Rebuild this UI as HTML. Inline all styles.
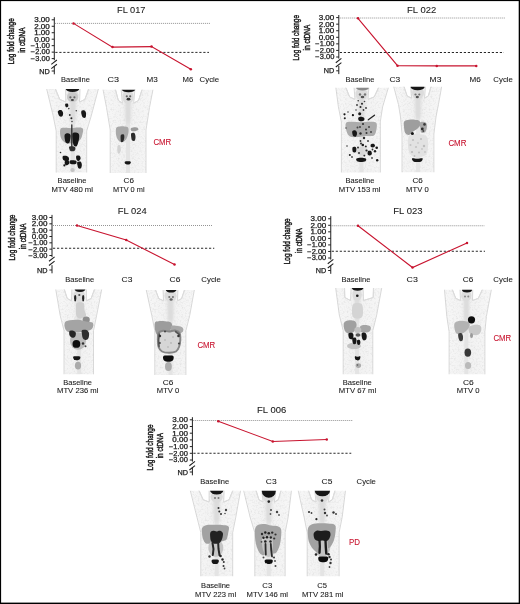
<!DOCTYPE html>
<html><head><meta charset="utf-8"><style>
html,body{margin:0;padding:0;background:#fff;}
svg{display:block;font-family:"Liberation Sans", sans-serif;will-change:transform;}
text{stroke:#1a1a1a;stroke-width:0.08px;}
text.b{stroke-width:0.25px;}
text.v{stroke-width:0.45px;}
text.r{stroke:#c8142f;}
</style></head><body>
<svg width="520" height="604" viewBox="0 0 520 604">
<defs>
<filter id="soft" x="-10%" y="-10%" width="120%" height="120%"><feGaussianBlur stdDeviation="0.45"/></filter>
<filter id="soft2" x="-10%" y="-10%" width="120%" height="120%"><feGaussianBlur stdDeviation="0.7"/></filter>
<filter id="spk" x="0" y="0" width="100%" height="100%"><feTurbulence type="fractalNoise" baseFrequency="0.55" numOctaves="2" seed="7" result="t"/><feColorMatrix in="t" type="matrix" values="0 0 0 0 0.5 0 0 0 0 0.5 0 0 0 0 0.5 2.2 0 0 0 -1.05" result="n"/><feComposite in="n" in2="SourceAlpha" operator="in" result="c"/><feGaussianBlur in="c" stdDeviation="0.35"/></filter>
<filter id="soft3" x="-30%" y="-30%" width="160%" height="160%"><feGaussianBlur stdDeviation="1.5"/></filter>
<linearGradient id="bodyg" x1="0" y1="0" x2="1" y2="0"><stop offset="0" stop-color="#f7f7f7"/><stop offset="0.5" stop-color="#f1f1f1"/><stop offset="1" stop-color="#f7f7f7"/></linearGradient>
</defs>
<rect x="0" y="0" width="520" height="604" fill="#fff"/>
<clipPath id="c1"><rect x="45.20" y="89" width="54.70" height="83.40"/></clipPath>
<g clip-path="url(#c1)">
<path d="M46.20,87.00 L54.80,87.00 L59.75,99.40 L65.80,102.00 L65.50,87.00 L80.10,87.00 L79.60,102.00 L84.88,99.40 L89.20,87.00 L98.90,87.00 L91.20,116.00 L86.70,131.00 L86.70,174.40 L56.20,174.40 L56.20,131.00 L53.20,116.00 Z" fill="url(#bodyg)" stroke="#d9d9d9" stroke-width="1.0" stroke-linejoin="round" filter="url(#soft2)"/>
<path d="M46.20,87.00 L54.80,87.00 L59.75,99.40 L65.80,102.00 L65.50,87.00 L80.10,87.00 L79.60,102.00 L84.88,99.40 L89.20,87.00 L98.90,87.00 L91.20,116.00 L86.70,131.00 L86.70,174.40 L56.20,174.40 L56.20,131.00 L53.20,116.00 Z" fill="#000" filter="url(#spk)" opacity="0.3"/>
<path d="M54.80,88 L59.75,99.40 L65.80,102 M89.20,88 L84.88,99.40 L79.60,102" stroke="#dcdcdc" stroke-width="1.0" fill="none" filter="url(#soft2)"/>
<rect x="70.80" y="102.00" width="4" height="70.40" fill="#e4e4e4" filter="url(#soft2)"/>
<path d="M69.59,99.00 L76.01,99.00 L75.43,122.00 L70.17,122.00 Z" fill="#dcdcdc" filter="url(#soft3)"/>
<ellipse cx="72.80" cy="96.00" rx="5.84" ry="6.76" fill="#dcdcdc" filter="url(#soft2)"/>
<g filter="url(#soft)">
<ellipse cx="72.5" cy="97" rx="5.5" ry="5" fill="#c8c8c8"/>
<circle cx="70.4" cy="97.3" r="1.1" fill="#666"/>
<circle cx="74.4" cy="97.3" r="1.1" fill="#666"/>
<ellipse cx="72.4" cy="100" rx="1.6" ry="1.1" fill="#444"/>
<ellipse cx="72.5" cy="88.5" rx="6.8" ry="3.6" fill="#141414"/>
<path d="M58.00,111.00 C58.45,110.33 60.17,109.75 61.00,110.00 C61.83,110.25 62.75,111.50 63.00,112.50 C63.25,113.50 63.00,115.33 62.50,116.00 C62.00,116.67 60.70,116.83 60.00,116.50 C59.30,116.17 58.63,114.92 58.30,114.00 C57.97,113.08 57.55,111.67 58.00,111.00 Z" fill="#141414"/>
<path d="M81.50,111.00 C82.00,110.33 83.75,110.17 84.50,110.50 C85.25,110.83 85.83,111.83 86.00,113.00 C86.17,114.17 86.00,116.75 85.50,117.50 C85.00,118.25 83.67,118.00 83.00,117.50 C82.33,117.00 81.75,115.58 81.50,114.50 C81.25,113.42 81.00,111.67 81.50,111.00 Z" fill="#141414"/>
<path d="M65.20,104.20 C65.50,103.63 67.30,103.42 67.80,103.80 C68.30,104.18 68.50,105.93 68.20,106.50 C67.90,107.07 66.50,107.58 66.00,107.20 C65.50,106.82 64.90,104.77 65.20,104.20 Z" fill="#141414"/>
<circle cx="69.8" cy="115" r="0.9" fill="#333"/>
<circle cx="71.4" cy="118.3" r="1.0" fill="#222"/>
<circle cx="76.3" cy="110.8" r="0.8" fill="#444"/>
<circle cx="68.8" cy="108.6" r="0.8" fill="#444"/>
<circle cx="72" cy="121.5" r="0.8" fill="#444"/>
<path d="M60.50,129.00 C61.33,127.30 64.08,127.92 66.00,127.80 C67.92,127.68 70.00,128.33 72.00,128.30 C74.00,128.27 76.20,127.55 78.00,127.60 C79.80,127.65 82.05,127.53 82.80,128.60 C83.55,129.67 82.97,132.10 82.50,134.00 C82.03,135.90 81.42,138.50 80.00,140.00 C78.58,141.50 76.33,142.50 74.00,143.00 C71.67,143.50 68.17,143.83 66.00,143.00 C63.83,142.17 61.92,140.33 61.00,138.00 C60.08,135.67 59.67,130.70 60.50,129.00 Z" fill="#a9a9a9"/>
<path d="M64.80,134.50 C65.33,133.55 67.05,133.22 68.00,133.30 C68.95,133.38 70.12,134.05 70.50,135.00 C70.88,135.95 70.55,137.67 70.30,139.00 C70.05,140.33 69.72,142.37 69.00,143.00 C68.28,143.63 66.70,143.47 66.00,142.80 C65.30,142.13 65.00,140.38 64.80,139.00 C64.60,137.62 64.27,135.45 64.80,134.50 Z" fill="#141414"/>
<path d="M72.50,133.50 C73.07,132.27 74.92,132.43 76.00,132.60 C77.08,132.77 78.53,133.27 79.00,134.50 C79.47,135.73 79.17,138.08 78.80,140.00 C78.43,141.92 77.63,145.08 76.80,146.00 C75.97,146.92 74.50,146.50 73.80,145.50 C73.10,144.50 72.82,142.00 72.60,140.00 C72.38,138.00 71.93,134.73 72.50,133.50 Z" fill="#141414"/>
<path d="M71.8,125 L71.8,150" stroke="#2a2a2a" stroke-width="1.3" fill="none" stroke-linecap="round"/>
<path d="M69.00,147.00 C69.25,146.22 70.95,146.22 72.00,146.30 C73.05,146.38 74.88,146.75 75.30,147.50 C75.72,148.25 75.30,150.22 74.50,150.80 C73.70,151.38 71.42,151.63 70.50,151.00 C69.58,150.37 68.75,147.78 69.00,147.00 Z" fill="#333"/>
<path d="M62.80,156.30 C63.30,155.68 65.00,155.55 66.00,155.80 C67.00,156.05 68.38,156.97 68.80,157.80 C69.22,158.63 69.05,160.27 68.50,160.80 C67.95,161.33 66.42,161.22 65.50,161.00 C64.58,160.78 63.45,160.28 63.00,159.50 C62.55,158.72 62.30,156.92 62.80,156.30 Z" fill="#141414"/>
<path d="M65.00,161.00 C65.58,160.43 67.78,160.38 68.50,160.80 C69.22,161.22 69.55,162.77 69.30,163.50 C69.05,164.23 67.72,165.08 67.00,165.20 C66.28,165.32 65.33,164.90 65.00,164.20 C64.67,163.50 64.42,161.57 65.00,161.00 Z" fill="#141414"/>
<path d="M69.80,160.80 C70.30,160.27 71.92,160.27 73.00,160.30 C74.08,160.33 75.80,160.42 76.30,161.00 C76.80,161.58 76.63,163.25 76.00,163.80 C75.37,164.35 73.50,164.35 72.50,164.30 C71.50,164.25 70.45,164.08 70.00,163.50 C69.55,162.92 69.30,161.33 69.80,160.80 Z" fill="#141414"/>
<path d="M76.30,156.00 C76.77,155.30 78.78,155.38 79.50,155.80 C80.22,156.22 80.68,157.67 80.60,158.50 C80.52,159.33 79.65,160.55 79.00,160.80 C78.35,161.05 77.15,160.80 76.70,160.00 C76.25,159.20 75.83,156.70 76.30,156.00 Z" fill="#141414"/>
<path d="M77.40,162.00 C77.92,161.43 79.77,161.18 80.50,161.60 C81.23,162.02 81.72,163.40 81.80,164.50 C81.88,165.60 81.55,167.58 81.00,168.20 C80.45,168.82 79.10,168.73 78.50,168.20 C77.90,167.67 77.58,166.03 77.40,165.00 C77.22,163.97 76.88,162.57 77.40,162.00 Z" fill="#141414"/>
<circle cx="64.4" cy="165.4" r="1.1" fill="#141414"/>
<circle cx="60.5" cy="152.5" r="0.8" fill="#333"/>
<ellipse cx="72.5" cy="170" rx="2.2" ry="2" fill="#c4c4c4"/>
</g></g>
<clipPath id="c2"><rect x="101.70" y="89.8" width="52.60" height="83.10"/></clipPath>
<g clip-path="url(#c2)">
<path d="M102.70,87.80 L115.10,87.80 L118.34,100.44 L122.30,103.10 L121.00,87.80 L135.00,87.80 L133.70,103.10 L138.54,100.44 L142.50,87.80 L153.30,87.80 L149.50,107.50 L146.00,130.00 L146.00,174.90 L110.20,174.90 L110.20,130.00 L106.50,107.50 Z" fill="url(#bodyg)" stroke="#d9d9d9" stroke-width="1.0" stroke-linejoin="round" filter="url(#soft2)"/>
<path d="M102.70,87.80 L115.10,87.80 L118.34,100.44 L122.30,103.10 L121.00,87.80 L135.00,87.80 L133.70,103.10 L138.54,100.44 L142.50,87.80 L153.30,87.80 L149.50,107.50 L146.00,130.00 L146.00,174.90 L110.20,174.90 L110.20,130.00 L106.50,107.50 Z" fill="#000" filter="url(#spk)" opacity="0.3"/>
<path d="M115.10,88.8 L118.34,100.44 L122.30,103.1 M142.50,88.8 L138.54,100.44 L133.70,103.1" stroke="#dcdcdc" stroke-width="1.0" fill="none" filter="url(#soft2)"/>
<rect x="126.00" y="103.10" width="4" height="69.80" fill="#e4e4e4" filter="url(#soft2)"/>
<path d="M124.92,100.10 L131.08,100.10 L130.52,123.10 L125.48,123.10 Z" fill="#dcdcdc" filter="url(#soft3)"/>
<ellipse cx="128.00" cy="96.95" rx="5.60" ry="6.92" fill="#dcdcdc" filter="url(#soft2)"/>
<g filter="url(#soft)">
<circle cx="126.8" cy="96.3" r="1.1" fill="#666"/>
<circle cx="130.2" cy="96.3" r="1.1" fill="#666"/>
<ellipse cx="128.5" cy="99.2" rx="1.9" ry="1.4" fill="#333"/>
<ellipse cx="128.5" cy="89.4" rx="6.7" ry="2.8" fill="#141414"/>
<path d="M116.20,128.00 C116.82,126.42 118.62,126.75 120.00,126.50 C121.38,126.25 123.17,126.33 124.50,126.50 C125.83,126.67 127.33,126.58 128.00,127.50 C128.67,128.42 128.70,130.25 128.50,132.00 C128.30,133.75 127.55,136.42 126.80,138.00 C126.05,139.58 125.22,140.92 124.00,141.50 C122.78,142.08 120.78,142.42 119.50,141.50 C118.22,140.58 116.85,138.25 116.30,136.00 C115.75,133.75 115.58,129.58 116.20,128.00 Z" fill="#a9a9a9"/>
<path d="M130.80,128.50 C131.22,127.88 132.88,127.42 134.00,127.30 C135.12,127.18 136.78,127.38 137.50,127.80 C138.22,128.22 138.72,129.23 138.30,129.80 C137.88,130.37 136.13,131.00 135.00,131.20 C133.87,131.40 132.20,131.45 131.50,131.00 C130.80,130.55 130.38,129.12 130.80,128.50 Z" fill="#9c9c9c"/>
<path d="M121.00,134.80 C121.53,134.13 123.25,134.05 123.80,134.50 C124.35,134.95 124.40,136.33 124.30,137.50 C124.20,138.67 123.72,140.75 123.20,141.50 C122.68,142.25 121.63,142.50 121.20,142.00 C120.77,141.50 120.63,139.70 120.60,138.50 C120.57,137.30 120.47,135.47 121.00,134.80 Z" fill="#2a2a2a"/>
<path d="M131.30,133.20 C131.82,132.53 133.60,132.45 134.30,133.00 C135.00,133.55 135.42,135.25 135.50,136.50 C135.58,137.75 135.35,139.82 134.80,140.50 C134.25,141.18 132.80,141.18 132.20,140.60 C131.60,140.02 131.35,138.23 131.20,137.00 C131.05,135.77 130.78,133.87 131.30,133.20 Z" fill="#2a2a2a"/>
<path d="M117.50,146.00 C117.90,144.83 119.45,144.83 120.00,145.50 C120.55,146.17 120.88,148.67 120.80,150.00 C120.72,151.33 120.03,153.08 119.50,153.50 C118.97,153.92 117.93,153.75 117.60,152.50 C117.27,151.25 117.10,147.17 117.50,146.00 Z" fill="#d2d2d2"/>
<path d="M124.80,161.80 C125.18,161.38 126.52,161.32 127.50,161.30 C128.48,161.28 130.28,161.25 130.70,161.70 C131.12,162.15 130.53,163.52 130.00,164.00 C129.47,164.48 128.30,164.63 127.50,164.60 C126.70,164.57 125.65,164.27 125.20,163.80 C124.75,163.33 124.42,162.22 124.80,161.80 Z" fill="#141414"/>
</g></g>
<clipPath id="c3"><rect x="334.60" y="87.8" width="55.30" height="84.60"/></clipPath>
<g clip-path="url(#c3)">
<path d="M335.60,85.80 L345.30,85.80 L349.67,97.00 L355.00,99.30 L353.90,85.80 L369.00,85.80 L368.00,99.30 L374.16,97.00 L379.20,85.80 L388.90,85.80 L382.60,106.90 L380.30,122.00 L380.30,174.40 L341.40,174.40 L341.40,122.00 L338.40,106.90 Z" fill="url(#bodyg)" stroke="#d9d9d9" stroke-width="1.0" stroke-linejoin="round" filter="url(#soft2)"/>
<path d="M335.60,85.80 L345.30,85.80 L349.67,97.00 L355.00,99.30 L353.90,85.80 L369.00,85.80 L368.00,99.30 L374.16,97.00 L379.20,85.80 L388.90,85.80 L382.60,106.90 L380.30,122.00 L380.30,174.40 L341.40,174.40 L341.40,122.00 L338.40,106.90 Z" fill="#000" filter="url(#spk)" opacity="0.3"/>
<path d="M345.30,86.8 L349.67,97.00 L355.00,99.3 M379.20,86.8 L374.16,97.00 L368.00,99.3" stroke="#dcdcdc" stroke-width="1.0" fill="none" filter="url(#soft2)"/>
<rect x="359.45" y="99.30" width="4" height="73.10" fill="#e4e4e4" filter="url(#soft2)"/>
<path d="M358.13,96.30 L364.77,96.30 L364.17,119.30 L358.73,119.30 Z" fill="#dcdcdc" filter="url(#soft3)"/>
<ellipse cx="361.45" cy="94.05" rx="6.04" ry="5.98" fill="#dcdcdc" filter="url(#soft2)"/>
<g filter="url(#soft)">
<ellipse cx="362.5" cy="88" rx="6.3" ry="2.6" fill="#8a8a8a"/>
<circle cx="360" cy="94.5" r="1.2" fill="#777"/>
<circle cx="365" cy="94.5" r="1.2" fill="#777"/>
<ellipse cx="362.5" cy="97" rx="1.8" ry="1.2" fill="#555"/>
<path d="M346.00,123.00 C346.92,121.47 349.67,121.93 352.00,121.80 C354.33,121.67 357.33,122.20 360.00,122.20 C362.67,122.20 365.33,121.75 368.00,121.80 C370.67,121.85 374.58,121.30 376.00,122.50 C377.42,123.70 376.83,126.83 376.50,129.00 C376.17,131.17 375.75,134.33 374.00,135.50 C372.25,136.67 368.67,135.75 366.00,136.00 C363.33,136.25 360.67,136.92 358.00,137.00 C355.33,137.08 351.92,137.50 350.00,136.50 C348.08,135.50 347.17,133.25 346.50,131.00 C345.83,128.75 345.08,124.53 346.00,123.00 Z" fill="#acacac"/>
<path d="M358.50,117.50 C358.98,116.93 360.55,116.72 361.50,116.80 C362.45,116.88 363.78,117.38 364.20,118.00 C364.62,118.62 364.53,119.97 364.00,120.50 C363.47,121.03 361.90,121.25 361.00,121.20 C360.10,121.15 359.02,120.82 358.60,120.20 C358.18,119.58 358.02,118.07 358.50,117.50 Z" fill="#141414"/>
<path d="M352.50,131.00 C353.02,130.45 354.75,130.17 355.50,130.50 C356.25,130.83 356.92,132.00 357.00,133.00 C357.08,134.00 356.58,135.95 356.00,136.50 C355.42,137.05 354.10,136.75 353.50,136.30 C352.90,135.85 352.57,134.68 352.40,133.80 C352.23,132.92 351.98,131.55 352.50,131.00 Z" fill="#141414"/>
<circle cx="359.7" cy="113.7" r="1.5" fill="#141414"/>
<circle cx="344.5" cy="114.3" r="1.1" fill="#141414"/>
<circle cx="344.8" cy="118.3" r="1.0" fill="#222"/>
<circle cx="352.9" cy="115.2" r="1.1" fill="#141414"/>
<circle cx="362" cy="103.8" r="1.0" fill="#222"/>
<circle cx="358.2" cy="100.8" r="0.8" fill="#333"/>
<circle cx="360.5" cy="106.9" r="1.0" fill="#222"/>
<circle cx="363.5" cy="110" r="0.9" fill="#333"/>
<path d="M368.3,119.8 L374.5,115.2" stroke="#222" stroke-width="1.3" fill="none" stroke-linecap="round"/>
<circle cx="362.8" cy="145" r="1.3" fill="#141414"/>
<circle cx="365.8" cy="146.5" r="1.0" fill="#222"/>
<circle cx="360.5" cy="141" r="0.9" fill="#333"/>
<circle cx="366.5" cy="133" r="1.0" fill="#333"/>
<circle cx="369" cy="127" r="1.0" fill="#444"/>
<circle cx="357.5" cy="127.5" r="1.0" fill="#444"/>
<path d="M370.80,144.50 C371.22,143.97 372.80,143.63 373.50,143.80 C374.20,143.97 374.95,144.92 375.00,145.50 C375.05,146.08 374.47,147.05 373.80,147.30 C373.13,147.55 371.50,147.47 371.00,147.00 C370.50,146.53 370.38,145.03 370.80,144.50 Z" fill="#141414"/>
<circle cx="376.7" cy="147.8" r="1.3" fill="#141414"/>
<path d="M352.60,147.30 C353.07,146.50 354.95,146.55 355.60,147.00 C356.25,147.45 356.53,149.12 356.50,150.00 C356.47,150.88 356.02,152.00 355.40,152.30 C354.78,152.60 353.27,152.63 352.80,151.80 C352.33,150.97 352.13,148.10 352.60,147.30 Z" fill="#141414"/>
<path d="M367.80,151.30 C368.33,150.72 370.33,150.55 371.00,151.00 C371.67,151.45 371.97,153.25 371.80,154.00 C371.63,154.75 370.67,155.42 370.00,155.50 C369.33,155.58 368.17,155.20 367.80,154.50 C367.43,153.80 367.27,151.88 367.80,151.30 Z" fill="#141414"/>
<circle cx="375" cy="151.2" r="1.2" fill="#222"/>
<path d="M356.50,158.60 C357.17,158.03 359.45,157.80 361.00,157.80 C362.55,157.80 365.05,158.03 365.80,158.60 C366.55,159.17 366.30,160.63 365.50,161.20 C364.70,161.77 362.42,162.00 361.00,162.00 C359.58,162.00 357.75,161.77 357.00,161.20 C356.25,160.63 355.83,159.17 356.50,158.60 Z" fill="#141414"/>
<circle cx="349.8" cy="154.9" r="1.0" fill="#222"/>
<circle cx="377.2" cy="160.2" r="1.2" fill="#141414"/>
<circle cx="364.3" cy="155.6" r="1.0" fill="#222"/>
<circle cx="347" cy="146" r="0.8" fill="#333"/>
<ellipse cx="362" cy="151" rx="6" ry="4.5" fill="#cfcfcf" opacity="0.6"/>
<circle cx="357" cy="105" r="0.9" fill="#333"/>
<circle cx="364.5" cy="101.5" r="0.8" fill="#444"/>
<circle cx="366" cy="108" r="0.9" fill="#333"/>
<circle cx="356" cy="110" r="0.8" fill="#444"/>
<circle cx="348" cy="112" r="0.8" fill="#444"/>
<circle cx="363" cy="124" r="1.1" fill="#333"/>
<circle cx="360" cy="127" r="1.0" fill="#444"/>
<circle cx="366" cy="129.5" r="1.0" fill="#333"/>
<circle cx="371" cy="132" r="1.0" fill="#444"/>
<circle cx="360.5" cy="133.5" r="1.2" fill="#2a2a2a"/>
<circle cx="364" cy="138" r="1.2" fill="#2a2a2a"/>
<circle cx="361" cy="143.5" r="1.0" fill="#333"/>
<circle cx="368" cy="141" r="1.0" fill="#444"/>
<circle cx="358" cy="147.5" r="1.0" fill="#333"/>
<circle cx="366.5" cy="150.5" r="1.1" fill="#2a2a2a"/>
<circle cx="372.5" cy="149.5" r="0.9" fill="#333"/>
<circle cx="359" cy="153" r="1.0" fill="#333"/>
<circle cx="352" cy="157" r="0.9" fill="#444"/>
<circle cx="372" cy="158" r="0.9" fill="#444"/>
<circle cx="346" cy="128" r="0.8" fill="#555"/>
</g></g>
<clipPath id="c4"><rect x="392.20" y="86.7" width="50.80" height="85.60"/></clipPath>
<g clip-path="url(#c4)">
<path d="M393.20,84.70 L403.50,84.70 L407.10,95.90 L411.50,98.20 L410.50,84.70 L425.50,84.70 L424.60,98.20 L428.34,95.90 L431.40,84.70 L442.00,84.70 L438.40,104.70 L436.00,117.00 L433.90,134.00 L433.90,174.30 L402.00,174.30 L402.00,134.00 L400.50,117.00 L398.50,104.70 Z" fill="url(#bodyg)" stroke="#d9d9d9" stroke-width="1.0" stroke-linejoin="round" filter="url(#soft2)"/>
<path d="M393.20,84.70 L403.50,84.70 L407.10,95.90 L411.50,98.20 L410.50,84.70 L425.50,84.70 L424.60,98.20 L428.34,95.90 L431.40,84.70 L442.00,84.70 L438.40,104.70 L436.00,117.00 L433.90,134.00 L433.90,174.30 L402.00,174.30 L402.00,134.00 L400.50,117.00 L398.50,104.70 Z" fill="#000" filter="url(#spk)" opacity="0.3"/>
<path d="M403.50,85.7 L407.10,95.90 L411.50,98.2 M431.40,85.7 L428.34,95.90 L424.60,98.2" stroke="#dcdcdc" stroke-width="1.0" fill="none" filter="url(#soft2)"/>
<rect x="416.00" y="98.20" width="4" height="74.10" fill="#e4e4e4" filter="url(#soft2)"/>
<path d="M414.70,95.20 L421.30,95.20 L420.70,118.20 L415.30,118.20 Z" fill="#dcdcdc" filter="url(#soft3)"/>
<ellipse cx="418.00" cy="92.95" rx="6.00" ry="5.98" fill="#dcdcdc" filter="url(#soft2)"/>
<g filter="url(#soft)">
<circle cx="415.5" cy="94.5" r="1.1" fill="#777"/>
<circle cx="419.3" cy="94.5" r="1.1" fill="#777"/>
<ellipse cx="417.3" cy="97" rx="1.6" ry="1.2" fill="#555"/>
<ellipse cx="417.6" cy="86.9" rx="7" ry="3.4" fill="#141414"/>
<path d="M409.00,136.00 C410.00,134.17 412.00,134.25 414.00,134.00 C416.00,133.75 418.83,134.00 421.00,134.50 C423.17,135.00 425.83,135.08 427.00,137.00 C428.17,138.92 428.08,143.17 428.00,146.00 C427.92,148.83 427.67,152.17 426.50,154.00 C425.33,155.83 423.08,156.50 421.00,157.00 C418.92,157.50 415.92,157.67 414.00,157.00 C412.08,156.33 410.50,155.00 409.50,153.00 C408.50,151.00 408.08,147.83 408.00,145.00 C407.92,142.17 408.00,137.83 409.00,136.00 Z" fill="#e2e2e2"/>
<circle cx="413" cy="140" r="1.1" fill="#c0c0c0"/>
<circle cx="421" cy="139" r="1.0" fill="#bbb"/>
<circle cx="424" cy="146" r="1.2" fill="#bbb"/>
<circle cx="416" cy="147" r="1.1" fill="#c4c4c4"/>
<circle cx="412" cy="152" r="1.1" fill="#bbb"/>
<circle cx="419" cy="152.5" r="1.0" fill="#c0c0c0"/>
<circle cx="425" cy="152" r="0.9" fill="#c4c4c4"/>
<circle cx="410.5" cy="145" r="1.0" fill="#c4c4c4"/>
<circle cx="418" cy="143" r="0.9" fill="#c8c8c8"/>
<circle cx="422" cy="149" r="0.9" fill="#c4c4c4"/>
<circle cx="414.5" cy="156" r="0.9" fill="#c0c0c0"/>
<path d="M404.20,121.50 C405.03,120.30 407.20,120.08 409.00,119.80 C410.80,119.52 413.25,119.60 415.00,119.80 C416.75,120.00 418.67,120.05 419.50,121.00 C420.33,121.95 420.42,124.17 420.00,125.50 C419.58,126.83 418.25,127.92 417.00,129.00 C415.75,130.08 413.83,131.00 412.50,132.00 C411.17,133.00 410.22,134.83 409.00,135.00 C407.78,135.17 406.03,134.33 405.20,133.00 C404.37,131.67 404.17,128.92 404.00,127.00 C403.83,125.08 403.37,122.70 404.20,121.50 Z" fill="#9e9e9e"/>
<path d="M420.00,122.50 C420.55,121.55 422.42,121.63 423.50,121.80 C424.58,121.97 425.95,122.47 426.50,123.50 C427.05,124.53 427.05,126.53 426.80,128.00 C426.55,129.47 425.93,131.55 425.00,132.30 C424.07,133.05 422.00,133.30 421.20,132.50 C420.40,131.70 420.40,129.17 420.20,127.50 C420.00,125.83 419.45,123.45 420.00,122.50 Z" fill="#a8a8a8"/>
<circle cx="422.3" cy="128.9" r="1.4" fill="#2a2a2a"/>
<circle cx="424.5" cy="124.4" r="1.3" fill="#3a3a3a"/>
<circle cx="423.3" cy="131" r="1" fill="#444"/>
<circle cx="412.4" cy="133.6" r="1.5" fill="#141414"/>
<path d="M412.20,158.30 C412.88,157.90 415.58,158.80 417.30,158.80 C419.02,158.80 421.80,157.90 422.50,158.30 C423.20,158.70 422.37,160.58 421.50,161.20 C420.63,161.82 418.68,162.00 417.30,162.00 C415.92,162.00 414.05,161.82 413.20,161.20 C412.35,160.58 411.52,158.70 412.20,158.30 Z" fill="#141414"/>
</g></g>
<clipPath id="c5"><rect x="54.40" y="289.4" width="48.70" height="84.80"/></clipPath>
<g clip-path="url(#c5)">
<path d="M55.40,287.40 L63.80,287.40 L67.27,298.52 L71.50,300.80 L71.90,287.40 L86.40,287.40 L86.40,300.80 L91.13,298.52 L95.00,287.40 L102.10,287.40 L96.70,315.10 L93.50,330.70 L93.50,376.20 L64.00,376.20 L64.00,330.70 L60.10,315.10 Z" fill="url(#bodyg)" stroke="#d9d9d9" stroke-width="1.0" stroke-linejoin="round" filter="url(#soft2)"/>
<path d="M55.40,287.40 L63.80,287.40 L67.27,298.52 L71.50,300.80 L71.90,287.40 L86.40,287.40 L86.40,300.80 L91.13,298.52 L95.00,287.40 L102.10,287.40 L96.70,315.10 L93.50,330.70 L93.50,376.20 L64.00,376.20 L64.00,330.70 L60.10,315.10 Z" fill="#000" filter="url(#spk)" opacity="0.3"/>
<path d="M63.80,288.4 L67.27,298.52 L71.50,300.8 M95.00,288.4 L91.13,298.52 L86.40,300.8" stroke="#dcdcdc" stroke-width="1.0" fill="none" filter="url(#soft2)"/>
<rect x="77.15" y="300.80" width="4" height="73.40" fill="#e4e4e4" filter="url(#soft2)"/>
<path d="M75.96,297.80 L82.34,297.80 L81.76,320.80 L76.54,320.80 Z" fill="#dcdcdc" filter="url(#soft3)"/>
<ellipse cx="79.15" cy="295.60" rx="5.80" ry="5.93" fill="#dcdcdc" filter="url(#soft2)"/>
<g filter="url(#soft)">
<ellipse cx="75.2" cy="298.2" rx="1.1" ry="3.2" fill="#222"/>
<ellipse cx="83.2" cy="298.2" rx="1.1" ry="3.2" fill="#222"/>
<circle cx="79.3" cy="295" r="1.1" fill="#555"/>
<ellipse cx="80" cy="289.3" rx="5.1" ry="2.6" fill="#141414"/>
<path d="M76.80,303.00 C78.05,302.00 82.22,301.83 83.50,303.00 C84.78,304.17 84.08,307.83 84.50,310.00 C84.92,312.17 86.75,314.58 86.00,316.00 C85.25,317.42 81.58,318.50 80.00,318.50 C78.42,318.50 77.17,317.58 76.50,316.00 C75.83,314.42 75.95,311.17 76.00,309.00 C76.05,306.83 75.55,304.00 76.80,303.00 Z" fill="#cfcfcf"/>
<ellipse cx="86.2" cy="319.8" rx="3.6" ry="3.2" fill="#8e8e8e"/>
<path d="M64.80,322.50 C65.55,320.95 67.80,320.65 70.00,320.20 C72.20,319.75 75.33,319.58 78.00,319.80 C80.67,320.02 83.53,321.00 86.00,321.50 C88.47,322.00 91.75,321.63 92.80,322.80 C93.85,323.97 93.43,327.05 92.30,328.50 C91.17,329.95 88.38,330.88 86.00,331.50 C83.62,332.12 80.67,332.03 78.00,332.20 C75.33,332.37 72.08,332.95 70.00,332.50 C67.92,332.05 66.37,331.17 65.50,329.50 C64.63,327.83 64.05,324.05 64.80,322.50 Z" fill="#a4a4a4"/>
<ellipse cx="78" cy="341" rx="8" ry="8.8" fill="#bcbcbc"/>
<path d="M69.50,331.00 C69.98,330.18 71.47,330.35 72.50,330.60 C73.53,330.85 75.25,331.52 75.70,332.50 C76.15,333.48 75.73,335.62 75.20,336.50 C74.67,337.38 73.43,337.97 72.50,337.80 C71.57,337.63 70.10,336.63 69.60,335.50 C69.10,334.37 69.02,331.82 69.50,331.00 Z" fill="#262626"/>
<path d="M82.00,330.20 C82.77,329.53 85.33,329.53 86.50,330.00 C87.67,330.47 88.67,331.67 89.00,333.00 C89.33,334.33 89.00,336.83 88.50,338.00 C88.00,339.17 86.92,339.92 86.00,340.00 C85.08,340.08 83.68,339.50 83.00,338.50 C82.32,337.50 82.07,335.38 81.90,334.00 C81.73,332.62 81.23,330.87 82.00,330.20 Z" fill="#2e2e2e"/>
<ellipse cx="76.4" cy="343.9" rx="3.9" ry="3.9" fill="#0c0c0c"/>
<circle cx="83" cy="343.5" r="1.2" fill="#333"/>
<circle cx="85.5" cy="346.3" r="1.0" fill="#444"/>
<path d="M73.30,356.60 C73.80,356.05 75.83,356.17 77.00,356.20 C78.17,356.23 79.88,356.23 80.30,356.80 C80.72,357.37 80.08,359.02 79.50,359.60 C78.92,360.18 77.72,360.32 76.80,360.30 C75.88,360.28 74.58,360.12 74.00,359.50 C73.42,358.88 72.80,357.15 73.30,356.60 Z" fill="#141414"/>
<ellipse cx="78" cy="365.6" rx="3.1" ry="3.9" fill="#aaaaaa"/>
</g></g>
<clipPath id="c6"><rect x="144.80" y="289.9" width="50.90" height="85.10"/></clipPath>
<g clip-path="url(#c6)">
<path d="M145.80,287.90 L154.90,287.90 L158.77,298.62 L163.50,300.80 L163.00,287.90 L178.00,287.90 L177.50,300.80 L181.62,298.62 L185.00,287.90 L194.70,287.90 L189.80,315.10 L185.90,330.70 L185.90,377.00 L154.80,377.00 L154.80,330.70 L151.70,315.10 Z" fill="url(#bodyg)" stroke="#d9d9d9" stroke-width="1.0" stroke-linejoin="round" filter="url(#soft2)"/>
<path d="M145.80,287.90 L154.90,287.90 L158.77,298.62 L163.50,300.80 L163.00,287.90 L178.00,287.90 L177.50,300.80 L181.62,298.62 L185.00,287.90 L194.70,287.90 L189.80,315.10 L185.90,330.70 L185.90,377.00 L154.80,377.00 L154.80,330.70 L151.70,315.10 Z" fill="#000" filter="url(#spk)" opacity="0.3"/>
<path d="M154.90,288.9 L158.77,298.62 L163.50,300.8 M185.00,288.9 L181.62,298.62 L177.50,300.8" stroke="#dcdcdc" stroke-width="1.0" fill="none" filter="url(#soft2)"/>
<rect x="168.50" y="300.80" width="4" height="74.20" fill="#e4e4e4" filter="url(#soft2)"/>
<path d="M167.20,297.80 L173.80,297.80 L173.20,320.80 L167.80,320.80 Z" fill="#dcdcdc" filter="url(#soft3)"/>
<ellipse cx="170.50" cy="295.85" rx="6.00" ry="5.67" fill="#dcdcdc" filter="url(#soft2)"/>
<g filter="url(#soft)">
<circle cx="169.3" cy="297" r="1.1" fill="#777"/>
<circle cx="172.9" cy="297" r="1.1" fill="#777"/>
<ellipse cx="171.1" cy="299.5" rx="1.6" ry="1.2" fill="#666"/>
<ellipse cx="171.1" cy="289.7" rx="5.4" ry="2.9" fill="#141414"/>
<path d="M154.80,323.00 C155.33,321.38 156.80,321.58 158.50,321.30 C160.20,321.02 162.92,321.10 165.00,321.30 C167.08,321.50 169.83,321.55 171.00,322.50 C172.17,323.45 172.33,325.50 172.00,327.00 C171.67,328.50 170.33,330.25 169.00,331.50 C167.67,332.75 165.83,333.87 164.00,334.50 C162.17,335.13 159.45,335.88 158.00,335.30 C156.55,334.72 155.83,333.05 155.30,331.00 C154.77,328.95 154.27,324.62 154.80,323.00 Z" fill="#9c9c9c"/>
<path d="M171.00,326.30 C171.67,325.02 174.08,325.60 176.00,325.80 C177.92,326.00 181.37,326.50 182.50,327.50 C183.63,328.50 183.55,330.75 182.80,331.80 C182.05,332.85 179.80,333.52 178.00,333.80 C176.20,334.08 173.17,334.75 172.00,333.50 C170.83,332.25 170.33,327.58 171.00,326.30 Z" fill="#a9a9a9"/>
<path d="M158.50,333.00 C159.35,331.47 161.25,331.05 163.00,330.80 C164.75,330.55 167.00,331.53 169.00,331.50 C171.00,331.47 173.25,330.35 175.00,330.60 C176.75,330.85 178.62,331.43 179.50,333.00 C180.38,334.57 180.38,337.67 180.30,340.00 C180.22,342.33 179.72,345.08 179.00,347.00 C178.28,348.92 177.67,350.53 176.00,351.50 C174.33,352.47 171.33,352.80 169.00,352.80 C166.67,352.80 163.73,352.47 162.00,351.50 C160.27,350.53 159.28,348.92 158.60,347.00 C157.92,345.08 157.92,342.33 157.90,340.00 C157.88,337.67 157.65,334.53 158.50,333.00 Z" fill="#d6d6d6" stroke="#858585" stroke-width="2.0"/>
<path d="M159.3,334 L158.6,340 L159,346.5" stroke="#555" stroke-width="1.6" fill="none" stroke-linecap="round"/>
<path d="M175.5,331.5 L179.3,334.5" stroke="#555" stroke-width="1.6" fill="none" stroke-linecap="round"/>
<circle cx="160" cy="336" r="1.2" fill="#333"/>
<circle cx="159.8" cy="343" r="1.1" fill="#444"/>
<circle cx="178.5" cy="336" r="1.3" fill="#333"/>
<circle cx="179" cy="343.5" r="1.1" fill="#444"/>
<circle cx="165" cy="331.5" r="1.0" fill="#444"/>
<circle cx="165" cy="340" r="0.9" fill="#bbb"/>
<circle cx="171" cy="343" r="0.9" fill="#b5b5b5"/>
<circle cx="168" cy="347" r="0.9" fill="#bbb"/>
<circle cx="173" cy="337" r="0.9" fill="#bbb"/>
<path d="M163.30,356.20 C164.03,355.37 166.72,355.50 168.40,355.50 C170.08,355.50 172.67,355.37 173.40,356.20 C174.13,357.03 173.63,359.57 172.80,360.50 C171.97,361.43 169.87,361.80 168.40,361.80 C166.93,361.80 164.85,361.43 164.00,360.50 C163.15,359.57 162.57,357.03 163.30,356.20 Z" fill="#0c0c0c"/>
<ellipse cx="168.4" cy="366.4" rx="3.4" ry="4.5" fill="#acacac"/>
</g></g>
<clipPath id="c7"><rect x="334.40" y="287.9" width="48.70" height="86.30"/></clipPath>
<g clip-path="url(#c7)">
<path d="M335.40,285.90 L344.50,285.90 L344.80,297.50 L350.50,300.50 L351.20,285.90 L363.00,285.90 L363.50,300.50 L373.20,297.50 L373.50,285.90 L382.10,285.90 L376.70,315.00 L372.80,330.70 L372.80,376.20 L343.20,376.20 L343.20,330.70 L339.30,315.00 Z" fill="url(#bodyg)" stroke="#d9d9d9" stroke-width="1.0" stroke-linejoin="round" filter="url(#soft2)"/>
<path d="M335.40,285.90 L344.50,285.90 L344.80,297.50 L350.50,300.50 L351.20,285.90 L363.00,285.90 L363.50,300.50 L373.20,297.50 L373.50,285.90 L382.10,285.90 L376.70,315.00 L372.80,330.70 L372.80,376.20 L343.20,376.20 L343.20,330.70 L339.30,315.00 Z" fill="#000" filter="url(#spk)" opacity="0.3"/>
<path d="M344.50,286.9 L344.80,297.50 L350.50,300.5 M373.50,286.9 L373.20,297.50 L363.50,300.5" stroke="#dcdcdc" stroke-width="1.0" fill="none" filter="url(#soft2)"/>
<rect x="355.10" y="300.50" width="4" height="73.70" fill="#e4e4e4" filter="url(#soft2)"/>
<path d="M354.50,297.50 L359.70,297.50 L359.22,320.50 L354.98,320.50 Z" fill="#dcdcdc" filter="url(#soft3)"/>
<ellipse cx="357.10" cy="294.70" rx="4.72" ry="6.55" fill="#dcdcdc" filter="url(#soft2)"/>
<g filter="url(#soft)">
<circle cx="357.3" cy="295.7" r="1.3" fill="#141414"/>
<ellipse cx="357.6" cy="287.9" rx="5.8" ry="2.8" fill="#141414"/>
<path d="M353.50,304.00 C355.08,302.83 359.92,302.83 361.50,304.00 C363.08,305.17 362.92,308.83 363.00,311.00 C363.08,313.17 362.92,315.75 362.00,317.00 C361.08,318.25 359.00,318.50 357.50,318.50 C356.00,318.50 353.92,318.25 353.00,317.00 C352.08,315.75 351.92,313.17 352.00,311.00 C352.08,308.83 351.92,305.17 353.50,304.00 Z" fill="#d4d4d4"/>
<path d="M344.00,323.00 C344.63,321.58 346.33,320.87 348.00,320.50 C349.67,320.13 352.58,320.22 354.00,320.80 C355.42,321.38 356.25,322.55 356.50,324.00 C356.75,325.45 356.25,328.00 355.50,329.50 C354.75,331.00 353.42,332.42 352.00,333.00 C350.58,333.58 348.30,333.67 347.00,333.00 C345.70,332.33 344.70,330.67 344.20,329.00 C343.70,327.33 343.37,324.42 344.00,323.00 Z" fill="#a0a0a0"/>
<path d="M360.30,326.30 C361.05,325.22 363.32,324.97 365.00,325.00 C366.68,325.03 369.57,325.50 370.40,326.50 C371.23,327.50 370.90,329.98 370.00,331.00 C369.10,332.02 366.58,332.52 365.00,332.60 C363.42,332.68 361.28,332.55 360.50,331.50 C359.72,330.45 359.55,327.38 360.30,326.30 Z" fill="#a4a4a4"/>
<ellipse cx="357.8" cy="330" rx="3.5" ry="3" fill="#c2c2c2"/>
<ellipse cx="354" cy="346" rx="7" ry="3.2" fill="#c4c4c4"/>
<path d="M348.60,333.30 C349.05,332.52 350.70,332.60 351.50,332.80 C352.30,333.00 353.15,333.53 353.40,334.50 C353.65,335.47 353.43,337.80 353.00,338.60 C352.57,339.40 351.50,339.48 350.80,339.30 C350.10,339.12 349.17,338.50 348.80,337.50 C348.43,336.50 348.15,334.08 348.60,333.30 Z" fill="#141414"/>
<path d="M352.50,338.00 C352.97,337.35 354.63,337.27 355.30,337.60 C355.97,337.93 356.40,339.00 356.50,340.00 C356.60,341.00 356.40,342.93 355.90,343.60 C355.40,344.27 354.07,344.35 353.50,344.00 C352.93,343.65 352.67,342.50 352.50,341.50 C352.33,340.50 352.03,338.65 352.50,338.00 Z" fill="#141414"/>
<path d="M357.20,340.30 C357.57,339.60 359.07,339.63 359.60,340.00 C360.13,340.37 360.42,341.70 360.40,342.50 C360.38,343.30 360.00,344.52 359.50,344.80 C359.00,345.08 357.78,344.95 357.40,344.20 C357.02,343.45 356.83,341.00 357.20,340.30 Z" fill="#141414"/>
<path d="M361.80,333.20 C362.28,332.42 364.00,332.50 364.80,332.80 C365.60,333.10 366.37,333.92 366.60,335.00 C366.83,336.08 366.72,338.42 366.20,339.30 C365.68,340.18 364.22,340.60 363.50,340.30 C362.78,340.00 362.18,338.68 361.90,337.50 C361.62,336.32 361.32,333.98 361.80,333.20 Z" fill="#141414"/>
<ellipse cx="358" cy="335" rx="2.5" ry="1.8" fill="#555"/>
<path d="M354.90,356.40 C355.25,355.95 356.70,356.80 357.60,356.80 C358.50,356.80 359.97,355.95 360.30,356.40 C360.63,356.85 360.05,358.83 359.60,359.50 C359.15,360.17 358.28,360.40 357.60,360.40 C356.92,360.40 355.95,360.17 355.50,359.50 C355.05,358.83 354.55,356.85 354.90,356.40 Z" fill="#141414"/>
<ellipse cx="358.4" cy="365.6" rx="2.7" ry="2.4" fill="#acacac"/>
<circle cx="357.5" cy="365" r="0.8" fill="#555"/>
</g></g>
<clipPath id="c8"><rect x="443.30" y="289.8" width="49.40" height="84.50"/></clipPath>
<g clip-path="url(#c8)">
<path d="M444.30,287.80 L451.80,287.80 L455.72,298.36 L460.50,300.50 L459.90,287.80 L472.80,287.80 L472.50,300.50 L478.27,298.36 L483.00,287.80 L491.70,287.80 L486.40,316.40 L484.90,331.70 L484.90,376.30 L449.10,376.30 L449.10,331.70 L446.80,316.40 Z" fill="url(#bodyg)" stroke="#d9d9d9" stroke-width="1.0" stroke-linejoin="round" filter="url(#soft2)"/>
<path d="M444.30,287.80 L451.80,287.80 L455.72,298.36 L460.50,300.50 L459.90,287.80 L472.80,287.80 L472.50,300.50 L478.27,298.36 L483.00,287.80 L491.70,287.80 L486.40,316.40 L484.90,331.70 L484.90,376.30 L449.10,376.30 L449.10,331.70 L446.80,316.40 Z" fill="#000" filter="url(#spk)" opacity="0.3"/>
<path d="M451.80,288.8 L455.72,298.36 L460.50,300.5 M483.00,288.8 L478.27,298.36 L472.50,300.5" stroke="#dcdcdc" stroke-width="1.0" fill="none" filter="url(#soft2)"/>
<rect x="464.35" y="300.50" width="4" height="73.80" fill="#e4e4e4" filter="url(#soft2)"/>
<path d="M463.51,297.50 L469.19,297.50 L468.67,320.50 L464.03,320.50 Z" fill="#dcdcdc" filter="url(#soft3)"/>
<ellipse cx="466.35" cy="295.65" rx="5.16" ry="5.56" fill="#dcdcdc" filter="url(#soft2)"/>
<g filter="url(#soft)">
<circle cx="465" cy="296.5" r="1.0" fill="#888"/>
<circle cx="468.3" cy="296.5" r="1.0" fill="#888"/>
<ellipse cx="467" cy="289.8" rx="5" ry="2.6" fill="#141414"/>
<path d="M454.50,323.50 C455.07,322.20 456.42,321.62 458.00,321.20 C459.58,320.78 462.17,320.78 464.00,321.00 C465.83,321.22 468.08,321.50 469.00,322.50 C469.92,323.50 470.00,325.58 469.50,327.00 C469.00,328.42 467.33,329.83 466.00,331.00 C464.67,332.17 463.08,333.58 461.50,334.00 C459.92,334.42 457.65,334.33 456.50,333.50 C455.35,332.67 454.93,330.67 454.60,329.00 C454.27,327.33 453.93,324.80 454.50,323.50 Z" fill="#b3b3b3"/>
<path d="M468.90,327.00 C469.73,325.83 472.15,325.25 474.00,325.00 C475.85,324.75 478.78,324.67 480.00,325.50 C481.22,326.33 481.55,328.48 481.30,330.00 C481.05,331.52 480.05,333.80 478.50,334.60 C476.95,335.40 473.58,335.23 472.00,334.80 C470.42,334.37 469.52,333.30 469.00,332.00 C468.48,330.70 468.07,328.17 468.90,327.00 Z" fill="#c8c8c8"/>
<path d="M458.50,333.60 C459.02,332.88 460.75,332.72 461.50,333.20 C462.25,333.68 462.83,335.28 463.00,336.50 C463.17,337.72 463.00,339.75 462.50,340.50 C462.00,341.25 460.68,341.50 460.00,341.00 C459.32,340.50 458.65,338.73 458.40,337.50 C458.15,336.27 457.98,334.32 458.50,333.60 Z" fill="#3c3c3c"/>
<ellipse cx="471.5" cy="335.5" rx="1.5" ry="2.6" fill="#9a9a9a"/>
<ellipse cx="471.5" cy="319.8" rx="3.6" ry="3.6" fill="#0e0e0e"/>
<ellipse cx="467.8" cy="352.6" rx="3.3" ry="4.2" fill="#383838"/>
<ellipse cx="468.1" cy="365.5" rx="3.1" ry="3.5" fill="#bababa"/>
</g></g>
<clipPath id="c9"><rect x="188.80" y="490.7" width="53.10" height="85.50"/></clipPath>
<g clip-path="url(#c9)">
<path d="M189.80,488.70 L198.40,488.70 L203.22,499.74 L209.10,502.00 L209.10,488.70 L224.20,488.70 L223.70,502.00 L229.03,499.74 L233.40,488.70 L240.90,488.70 L235.80,517.10 L232.70,532.70 L232.70,578.20 L200.80,578.20 L200.80,532.70 L196.90,517.10 Z" fill="url(#bodyg)" stroke="#d9d9d9" stroke-width="1.0" stroke-linejoin="round" filter="url(#soft2)"/>
<path d="M189.80,488.70 L198.40,488.70 L203.22,499.74 L209.10,502.00 L209.10,488.70 L224.20,488.70 L223.70,502.00 L229.03,499.74 L233.40,488.70 L240.90,488.70 L235.80,517.10 L232.70,532.70 L232.70,578.20 L200.80,578.20 L200.80,532.70 L196.90,517.10 Z" fill="#000" filter="url(#spk)" opacity="0.3"/>
<path d="M198.40,489.7 L203.22,499.74 L209.10,502 M233.40,489.7 L229.03,499.74 L223.70,502" stroke="#dcdcdc" stroke-width="1.0" fill="none" filter="url(#soft2)"/>
<rect x="214.65" y="502.00" width="4" height="74.20" fill="#e4e4e4" filter="url(#soft2)"/>
<path d="M213.33,499.00 L219.97,499.00 L219.37,522.00 L213.93,522.00 Z" fill="#dcdcdc" filter="url(#soft3)"/>
<ellipse cx="216.65" cy="496.85" rx="6.04" ry="5.88" fill="#dcdcdc" filter="url(#soft2)"/>
<g filter="url(#soft)">
<circle cx="215" cy="498" r="1.0" fill="#777"/>
<circle cx="218.5" cy="498" r="1.0" fill="#777"/>
<ellipse cx="216.7" cy="490.4" rx="6.6" ry="4.1" fill="#141414"/>
<circle cx="218.5" cy="508" r="1.0" fill="#333"/>
<circle cx="219.3" cy="511.5" r="1.0" fill="#2a2a2a"/>
<circle cx="221" cy="514" r="1.0" fill="#333"/>
<circle cx="226" cy="510" r="1.2" fill="#444"/>
<circle cx="225" cy="513.5" r="0.8" fill="#444"/>
<path d="M202.10,528.00 C202.77,526.70 204.02,525.73 206.00,525.20 C207.98,524.67 211.33,524.83 214.00,524.80 C216.67,524.77 219.57,524.72 222.00,525.00 C224.43,525.28 227.57,525.17 228.60,526.50 C229.63,527.83 228.55,530.83 228.20,533.00 C227.85,535.17 227.37,538.17 226.50,539.50 C225.63,540.83 224.58,540.42 223.00,541.00 C221.42,541.58 219.00,542.58 217.00,543.00 C215.00,543.42 212.83,543.42 211.00,543.50 C209.17,543.58 207.33,544.25 206.00,543.50 C204.67,542.75 203.67,540.75 203.00,539.00 C202.33,537.25 202.15,534.83 202.00,533.00 C201.85,531.17 201.43,529.30 202.10,528.00 Z" fill="#a2a2a2"/>
<ellipse cx="215.8" cy="548" rx="7.5" ry="9" fill="#c6c6c6"/>
<path d="M210.40,532.50 C210.87,531.47 211.98,530.97 213.00,530.80 C214.02,530.63 215.33,531.50 216.50,531.50 C217.67,531.50 218.95,530.55 220.00,530.80 C221.05,531.05 222.38,531.88 222.80,533.00 C223.22,534.12 222.88,536.00 222.50,537.50 C222.12,539.00 221.25,541.00 220.50,542.00 C219.75,543.00 219.17,543.25 218.00,543.50 C216.83,543.75 214.67,543.92 213.50,543.50 C212.33,543.08 211.55,542.08 211.00,541.00 C210.45,539.92 210.30,538.42 210.20,537.00 C210.10,535.58 209.93,533.53 210.40,532.50 Z" fill="#202020"/>
<path d="M212.5,543 L213.5,549 L212.8,555" stroke="#262626" stroke-width="2.0" fill="none" stroke-linecap="round"/>
<path d="M218.2,543 L218.5,549 L219.5,555" stroke="#262626" stroke-width="2.0" fill="none" stroke-linecap="round"/>
<circle cx="209.5" cy="556.5" r="1.2" fill="#333"/>
<circle cx="220.5" cy="556" r="1.3" fill="#222"/>
<path d="M211.70,560.20 C212.17,559.60 214.03,559.60 215.20,559.60 C216.37,559.60 218.23,559.60 218.70,560.20 C219.17,560.80 218.58,562.57 218.00,563.20 C217.42,563.83 216.13,564.00 215.20,564.00 C214.27,564.00 212.98,563.83 212.40,563.20 C211.82,562.57 211.23,560.80 211.70,560.20 Z" fill="#141414"/>
<circle cx="222.5" cy="559.5" r="1.2" fill="#222"/>
<circle cx="223.8" cy="562" r="1.0" fill="#333"/>
<circle cx="223.5" cy="566" r="1.0" fill="#333"/>
<circle cx="224.5" cy="568.5" r="0.9" fill="#444"/>
</g></g>
<clipPath id="c10"><rect x="242.20" y="490.7" width="50.50" height="85.50"/></clipPath>
<g clip-path="url(#c10)">
<path d="M243.20,488.70 L255.60,488.70 L258.98,499.74 L263.10,502.00 L261.50,488.70 L276.00,488.70 L274.40,502.00 L278.25,499.74 L281.40,488.70 L291.70,488.70 L288.20,517.10 L285.10,532.70 L285.10,578.20 L254.80,578.20 L254.80,532.70 L250.10,517.10 Z" fill="url(#bodyg)" stroke="#d9d9d9" stroke-width="1.0" stroke-linejoin="round" filter="url(#soft2)"/>
<path d="M243.20,488.70 L255.60,488.70 L258.98,499.74 L263.10,502.00 L261.50,488.70 L276.00,488.70 L274.40,502.00 L278.25,499.74 L281.40,488.70 L291.70,488.70 L288.20,517.10 L285.10,532.70 L285.10,578.20 L254.80,578.20 L254.80,532.70 L250.10,517.10 Z" fill="#000" filter="url(#spk)" opacity="0.3"/>
<path d="M255.60,489.7 L258.98,499.74 L263.10,502 M281.40,489.7 L278.25,499.74 L274.40,502" stroke="#dcdcdc" stroke-width="1.0" fill="none" filter="url(#soft2)"/>
<rect x="266.75" y="502.00" width="4" height="74.20" fill="#e4e4e4" filter="url(#soft2)"/>
<path d="M265.56,499.00 L271.94,499.00 L271.36,522.00 L266.14,522.00 Z" fill="#dcdcdc" filter="url(#soft3)"/>
<ellipse cx="268.75" cy="496.85" rx="5.80" ry="5.88" fill="#dcdcdc" filter="url(#soft2)"/>
<g filter="url(#soft)">
<circle cx="268.8" cy="501.6" r="1.3" fill="#222"/>
<ellipse cx="268.8" cy="491" rx="7" ry="6.7" fill="#141414"/>
<circle cx="271" cy="510" r="1.0" fill="#444"/>
<circle cx="270.5" cy="514" r="0.9" fill="#555"/>
<circle cx="277" cy="512" r="1.2" fill="#444"/>
<circle cx="279" cy="515" r="0.9" fill="#555"/>
<ellipse cx="268.5" cy="546" rx="7.5" ry="11" fill="#c4c4c4"/>
<path d="M255.30,528.00 C255.97,525.92 257.38,525.17 259.00,524.50 C260.62,523.83 263.00,523.83 265.00,524.00 C267.00,524.17 269.00,525.17 271.00,525.50 C273.00,525.83 275.33,525.42 277.00,526.00 C278.67,526.58 280.33,527.00 281.00,529.00 C281.67,531.00 281.25,535.17 281.00,538.00 C280.75,540.83 280.33,543.50 279.50,546.00 C278.67,548.50 277.25,552.00 276.00,553.00 C274.75,554.00 272.50,553.33 272.00,552.00 C271.50,550.67 273.00,547.33 273.00,545.00 C273.00,542.67 273.17,539.50 272.00,538.00 C270.83,536.50 267.67,535.67 266.00,536.00 C264.33,536.33 262.58,538.00 262.00,540.00 C261.42,542.00 262.08,545.50 262.50,548.00 C262.92,550.50 264.92,554.08 264.50,555.00 C264.08,555.92 261.33,555.00 260.00,553.50 C258.67,552.00 257.33,548.75 256.50,546.00 C255.67,543.25 255.20,540.00 255.00,537.00 C254.80,534.00 254.63,530.08 255.30,528.00 Z" fill="#a4a4a4"/>
<circle cx="262" cy="534" r="1.2" fill="#2a2a2a"/>
<circle cx="265.3" cy="532.5" r="1.2" fill="#1e1e1e"/>
<circle cx="268.8" cy="533.2" r="1.3" fill="#222"/>
<circle cx="272.2" cy="532.6" r="1.2" fill="#2a2a2a"/>
<circle cx="275.5" cy="534.5" r="1.1" fill="#333"/>
<circle cx="263.5" cy="537.8" r="1.2" fill="#222"/>
<circle cx="267" cy="537.2" r="1.3" fill="#1a1a1a"/>
<circle cx="270.8" cy="537.5" r="1.2" fill="#222"/>
<circle cx="274.2" cy="538.5" r="1.1" fill="#333"/>
<circle cx="265.3" cy="541.5" r="1.3" fill="#1e1e1e"/>
<circle cx="270.5" cy="541.5" r="1.2" fill="#222"/>
<circle cx="261.5" cy="541.8" r="0.9" fill="#444"/>
<path d="M265.5,544 L265.6,549.5 L265.8,554.5" stroke="#2a2a2a" stroke-width="1.8" fill="none" stroke-linecap="round"/>
<path d="M270.8,544 L271.2,550 L272,556.5" stroke="#2a2a2a" stroke-width="1.8" fill="none" stroke-linecap="round"/>
<path d="M264.80,560.20 C265.33,559.58 267.48,559.60 268.80,559.60 C270.12,559.60 272.20,559.58 272.70,560.20 C273.20,560.82 272.45,562.67 271.80,563.30 C271.15,563.93 269.83,564.00 268.80,564.00 C267.77,564.00 266.27,563.93 265.60,563.30 C264.93,562.67 264.27,560.82 264.80,560.20 Z" fill="#0c0c0c"/>
<circle cx="274" cy="557.5" r="1.0" fill="#333"/>
<circle cx="275" cy="561" r="0.9" fill="#444"/>
<circle cx="275.5" cy="566" r="1.0" fill="#444"/>
<circle cx="263.5" cy="557.5" r="1.0" fill="#444"/>
</g></g>
<clipPath id="c11"><rect x="296.80" y="490.7" width="49.90" height="85.50"/></clipPath>
<g clip-path="url(#c11)">
<path d="M297.80,488.70 L308.00,488.70 L311.60,499.74 L316.00,502.00 L314.50,488.70 L330.00,488.70 L328.40,502.00 L332.25,499.74 L335.40,488.70 L345.70,488.70 L342.20,517.10 L339.10,532.70 L339.10,578.20 L307.20,578.20 L307.20,532.70 L304.10,517.10 Z" fill="url(#bodyg)" stroke="#d9d9d9" stroke-width="1.0" stroke-linejoin="round" filter="url(#soft2)"/>
<path d="M297.80,488.70 L308.00,488.70 L311.60,499.74 L316.00,502.00 L314.50,488.70 L330.00,488.70 L328.40,502.00 L332.25,499.74 L335.40,488.70 L345.70,488.70 L342.20,517.10 L339.10,532.70 L339.10,578.20 L307.20,578.20 L307.20,532.70 L304.10,517.10 Z" fill="#000" filter="url(#spk)" opacity="0.3"/>
<path d="M308.00,489.7 L311.60,499.74 L316.00,502 M335.40,489.7 L332.25,499.74 L328.40,502" stroke="#dcdcdc" stroke-width="1.0" fill="none" filter="url(#soft2)"/>
<rect x="320.25" y="502.00" width="4" height="74.20" fill="#e4e4e4" filter="url(#soft2)"/>
<path d="M318.84,499.00 L325.66,499.00 L325.04,522.00 L319.46,522.00 Z" fill="#dcdcdc" filter="url(#soft3)"/>
<ellipse cx="322.25" cy="496.85" rx="6.20" ry="5.88" fill="#dcdcdc" filter="url(#soft2)"/>
<g filter="url(#soft)">
<circle cx="322" cy="500.5" r="1.3" fill="#333"/>
<ellipse cx="322.4" cy="490.7" rx="7.6" ry="5.6" fill="#141414"/>
<circle cx="309" cy="512" r="1.1" fill="#333"/>
<circle cx="311.5" cy="513" r="0.9" fill="#444"/>
<circle cx="324.5" cy="509.5" r="1.0" fill="#444"/>
<circle cx="325" cy="513" r="1.2" fill="#333"/>
<circle cx="327" cy="515.5" r="0.9" fill="#444"/>
<circle cx="333.5" cy="512.5" r="1.2" fill="#333"/>
<circle cx="336" cy="514" r="1.0" fill="#444"/>
<circle cx="316.4" cy="519.2" r="1.1" fill="#222"/>
<ellipse cx="322.5" cy="546" rx="8" ry="11" fill="#c4c4c4"/>
<path d="M308.10,528.00 C308.78,526.20 310.02,524.98 312.00,524.20 C313.98,523.42 317.33,523.40 320.00,523.30 C322.67,523.20 325.50,523.32 328.00,523.60 C330.50,523.88 333.75,523.60 335.00,525.00 C336.25,526.40 335.67,529.50 335.50,532.00 C335.33,534.50 334.75,537.67 334.00,540.00 C333.25,542.33 332.00,544.67 331.00,546.00 C330.00,547.33 328.67,549.00 328.00,548.00 C327.33,547.00 328.17,541.67 327.00,540.00 C325.83,538.33 322.50,537.33 321.00,538.00 C319.50,538.67 318.42,541.53 318.00,544.00 C317.58,546.47 319.33,551.97 318.50,552.80 C317.67,553.63 314.58,550.80 313.00,549.00 C311.42,547.20 309.85,544.33 309.00,542.00 C308.15,539.67 308.05,537.33 307.90,535.00 C307.75,532.67 307.42,529.80 308.10,528.00 Z" fill="#a2a2a2"/>
<path d="M313.90,533.00 C314.43,532.00 315.82,530.83 317.00,530.50 C318.18,530.17 319.67,531.02 321.00,531.00 C322.33,530.98 323.58,530.32 325.00,530.40 C326.42,530.48 328.58,530.73 329.50,531.50 C330.42,532.27 330.58,533.75 330.50,535.00 C330.42,536.25 329.67,538.00 329.00,539.00 C328.33,540.00 327.67,540.75 326.50,541.00 C325.33,541.25 323.33,540.50 322.00,540.50 C320.67,540.50 319.67,541.17 318.50,541.00 C317.33,540.83 315.78,540.25 315.00,539.50 C314.22,538.75 313.98,537.58 313.80,536.50 C313.62,535.42 313.37,534.00 313.90,533.00 Z" fill="#1c1c1c"/>
<path d="M319.5,540 L319.8,546.5 L319.5,552.8" stroke="#1e1e1e" stroke-width="2.4" fill="none" stroke-linecap="round"/>
<path d="M325.5,540 L325.8,547 L326.3,553.6" stroke="#1e1e1e" stroke-width="2.4" fill="none" stroke-linecap="round"/>
<circle cx="316" cy="554.5" r="1.3" fill="#222"/>
<circle cx="328.5" cy="554.3" r="1.3" fill="#222"/>
<path d="M318.50,557.20 C319.17,556.43 321.62,556.60 323.20,556.60 C324.78,556.60 327.33,556.43 328.00,557.20 C328.67,557.97 328.00,560.37 327.20,561.20 C326.40,562.03 324.53,562.20 323.20,562.20 C321.87,562.20 319.98,562.03 319.20,561.20 C318.42,560.37 317.83,557.97 318.50,557.20 Z" fill="#0c0c0c"/>
<circle cx="329.5" cy="557" r="1.2" fill="#333"/>
<circle cx="331" cy="559.5" r="1.0" fill="#333"/>
<circle cx="330.5" cy="563" r="1.2" fill="#333"/>
<circle cx="329.5" cy="567" r="0.9" fill="#444"/>
</g></g>
<text x="57.64" y="183.20" font-size="7.14" textLength="28.81" lengthAdjust="spacingAndGlyphs" fill="#1a1a1a" font-weight="normal">Baseline</text>
<text x="51.44" y="192.40" font-size="7.14" textLength="41.51" lengthAdjust="spacingAndGlyphs" fill="#1a1a1a" font-weight="normal">MTV 480 ml</text>
<text x="123.64" y="183.20" font-size="7.14" textLength="10.31" lengthAdjust="spacingAndGlyphs" fill="#1a1a1a" font-weight="normal">C6</text>
<text x="113.04" y="192.40" font-size="7.14" textLength="31.51" lengthAdjust="spacingAndGlyphs" fill="#1a1a1a" font-weight="normal">MTV 0 ml</text>
<text x="345.64" y="183.20" font-size="7.14" textLength="28.71" lengthAdjust="spacingAndGlyphs" fill="#1a1a1a" font-weight="normal">Baseline</text>
<text x="338.84" y="192.40" font-size="7.14" textLength="41.71" lengthAdjust="spacingAndGlyphs" fill="#1a1a1a" font-weight="normal">MTV 153 ml</text>
<text x="412.54" y="183.20" font-size="7.14" textLength="10.31" lengthAdjust="spacingAndGlyphs" fill="#1a1a1a" font-weight="normal">C6</text>
<text x="406.14" y="192.40" font-size="7.14" textLength="22.51" lengthAdjust="spacingAndGlyphs" fill="#1a1a1a" font-weight="normal">MTV 0</text>
<text x="63.34" y="384.50" font-size="7.14" textLength="28.61" lengthAdjust="spacingAndGlyphs" fill="#1a1a1a" font-weight="normal">Baseline</text>
<text x="57.04" y="393.30" font-size="7.14" textLength="41.41" lengthAdjust="spacingAndGlyphs" fill="#1a1a1a" font-weight="normal">MTV 236 ml</text>
<text x="162.74" y="384.50" font-size="7.14" textLength="10.61" lengthAdjust="spacingAndGlyphs" fill="#1a1a1a" font-weight="normal">C6</text>
<text x="156.84" y="393.30" font-size="7.14" textLength="22.51" lengthAdjust="spacingAndGlyphs" fill="#1a1a1a" font-weight="normal">MTV 0</text>
<text x="342.84" y="384.50" font-size="7.14" textLength="29.01" lengthAdjust="spacingAndGlyphs" fill="#1a1a1a" font-weight="normal">Baseline</text>
<text x="338.84" y="393.30" font-size="7.14" textLength="37.31" lengthAdjust="spacingAndGlyphs" fill="#1a1a1a" font-weight="normal">MTV 67 ml</text>
<text x="462.94" y="384.50" font-size="7.14" textLength="10.81" lengthAdjust="spacingAndGlyphs" fill="#1a1a1a" font-weight="normal">C6</text>
<text x="456.84" y="393.30" font-size="7.14" textLength="22.61" lengthAdjust="spacingAndGlyphs" fill="#1a1a1a" font-weight="normal">MTV 0</text>
<text x="201.14" y="587.50" font-size="7.14" textLength="28.91" lengthAdjust="spacingAndGlyphs" fill="#1a1a1a" font-weight="normal">Baseline</text>
<text x="195.04" y="596.60" font-size="7.14" textLength="41.11" lengthAdjust="spacingAndGlyphs" fill="#1a1a1a" font-weight="normal">MTV 223 ml</text>
<text x="262.34" y="587.50" font-size="7.14" textLength="9.91" lengthAdjust="spacingAndGlyphs" fill="#1a1a1a" font-weight="normal">C3</text>
<text x="246.54" y="596.60" font-size="7.14" textLength="41.51" lengthAdjust="spacingAndGlyphs" fill="#1a1a1a" font-weight="normal">MTV 146 ml</text>
<text x="317.34" y="587.50" font-size="7.14" textLength="9.71" lengthAdjust="spacingAndGlyphs" fill="#1a1a1a" font-weight="normal">C5</text>
<text x="301.94" y="596.60" font-size="7.14" textLength="41.51" lengthAdjust="spacingAndGlyphs" fill="#1a1a1a" font-weight="normal">MTV 281 ml</text>
<text x="117.07" y="13.00" font-size="8.57" textLength="28.36" lengthAdjust="spacingAndGlyphs" fill="#1a1a1a" font-weight="normal">FL 017</text>
<text transform="translate(13.97,41.30) rotate(-90)" x="0" y="0" text-anchor="middle" font-size="9.40" textLength="46.14" lengthAdjust="spacingAndGlyphs" fill="#1a1a1a" class="v">Log fold change</text>
<text transform="translate(24.88,40.15) rotate(-90)" x="0" y="0" text-anchor="middle" font-size="9.00" textLength="25.20" lengthAdjust="spacingAndGlyphs" fill="#1a1a1a" class="v">in ctDNA</text>
<path d="M54.3,17.2 V60.2 M54.3,66.2 V74.3" stroke="#222" stroke-width="1" fill="none"/>
<path d="M51.3,64.4 L56.9,60.0 M51.3,68.60000000000001 L56.9,64.2" stroke="#222" stroke-width="1.1" fill="none"/>
<line x1="51.699999999999996" y1="19.80" x2="54.3" y2="19.80" stroke="#222" stroke-width="1"/>
<text x="34.16" y="22.15" font-size="6.71" textLength="15.67" lengthAdjust="spacingAndGlyphs" fill="#1a1a1a" font-weight="normal" class="b">3.00</text>
<line x1="51.699999999999996" y1="26.27" x2="54.3" y2="26.27" stroke="#222" stroke-width="1"/>
<text x="34.16" y="28.62" font-size="6.71" textLength="15.67" lengthAdjust="spacingAndGlyphs" fill="#1a1a1a" font-weight="normal" class="b">2.00</text>
<line x1="51.699999999999996" y1="32.73" x2="54.3" y2="32.73" stroke="#222" stroke-width="1"/>
<text x="34.16" y="35.08" font-size="6.71" textLength="15.67" lengthAdjust="spacingAndGlyphs" fill="#1a1a1a" font-weight="normal" class="b">1.00</text>
<line x1="51.699999999999996" y1="39.20" x2="54.3" y2="39.20" stroke="#222" stroke-width="1"/>
<text x="34.16" y="41.55" font-size="6.71" textLength="15.67" lengthAdjust="spacingAndGlyphs" fill="#1a1a1a" font-weight="normal" class="b">0.00</text>
<line x1="51.699999999999996" y1="45.67" x2="54.3" y2="45.67" stroke="#222" stroke-width="1"/>
<text x="30.86" y="48.02" font-size="6.71" textLength="18.97" lengthAdjust="spacingAndGlyphs" fill="#1a1a1a" font-weight="normal" class="b">−1.00</text>
<line x1="51.699999999999996" y1="52.13" x2="54.3" y2="52.13" stroke="#222" stroke-width="1"/>
<text x="30.86" y="54.48" font-size="6.71" textLength="18.97" lengthAdjust="spacingAndGlyphs" fill="#1a1a1a" font-weight="normal" class="b">−2.00</text>
<line x1="51.699999999999996" y1="58.60" x2="54.3" y2="58.60" stroke="#222" stroke-width="1"/>
<text x="30.86" y="60.95" font-size="6.71" textLength="18.97" lengthAdjust="spacingAndGlyphs" fill="#1a1a1a" font-weight="normal" class="b">−3.00</text>
<line x1="51.699999999999996" y1="71" x2="54.3" y2="71" stroke="#222" stroke-width="1"/>
<text x="39.34" y="73.50" font-size="7.14" textLength="10.51" lengthAdjust="spacingAndGlyphs" fill="#1a1a1a" font-weight="normal" class="b">ND</text>
<line x1="55.3" y1="23.4" x2="210" y2="23.4" stroke="#555" stroke-width="0.8" stroke-dasharray="0.8 1.2"/>
<line x1="55.3" y1="52.4" x2="209" y2="52.4" stroke="#111" stroke-width="0.9" stroke-dasharray="2.2 1.8"/>
<polyline points="73.5,23.4 112.5,47.1 151.5,46.6 190.8,69.2" fill="none" stroke="#c8142f" stroke-width="1.1"/>
<circle cx="73.5" cy="23.4" r="1.25" fill="#c8142f"/>
<circle cx="112.5" cy="47.1" r="1.25" fill="#c8142f"/>
<circle cx="151.5" cy="46.6" r="1.25" fill="#c8142f"/>
<circle cx="190.8" cy="69.2" r="1.25" fill="#c8142f"/>
<text x="61.11" y="81.70" font-size="7.71" textLength="28.77" lengthAdjust="spacingAndGlyphs" fill="#1a1a1a" font-weight="normal">Baseline</text>
<text x="107.61" y="81.70" font-size="7.71" textLength="11.52" lengthAdjust="spacingAndGlyphs" fill="#1a1a1a" font-weight="normal">C3</text>
<text x="146.61" y="81.70" font-size="7.71" textLength="11.27" lengthAdjust="spacingAndGlyphs" fill="#1a1a1a" font-weight="normal">M3</text>
<text x="182.61" y="81.70" font-size="7.71" textLength="10.77" lengthAdjust="spacingAndGlyphs" fill="#1a1a1a" font-weight="normal">M6</text>
<text x="199.61" y="81.70" font-size="7.71" textLength="19.57" lengthAdjust="spacingAndGlyphs" fill="#1a1a1a" font-weight="normal">Cycle</text>
<text x="407.07" y="13.00" font-size="8.57" textLength="29.11" lengthAdjust="spacingAndGlyphs" fill="#1a1a1a" font-weight="normal">FL 022</text>
<text transform="translate(298.77,37.75) rotate(-90)" x="0" y="0" text-anchor="middle" font-size="9.40" textLength="45.44" lengthAdjust="spacingAndGlyphs" fill="#1a1a1a" class="v">Log fold change</text>
<text transform="translate(309.98,37.50) rotate(-90)" x="0" y="0" text-anchor="middle" font-size="9.00" textLength="25.90" lengthAdjust="spacingAndGlyphs" fill="#1a1a1a" class="v">in ctDNA</text>
<path d="M338.8,15.000000000000002 V58.6 M338.8,66.0 V74.1" stroke="#222" stroke-width="1" fill="none"/>
<path d="M335.8,62.800000000000004 L341.40000000000003,58.4 M335.8,67.0 L341.40000000000003,62.6" stroke="#222" stroke-width="1.1" fill="none"/>
<line x1="336.2" y1="17.60" x2="338.8" y2="17.60" stroke="#222" stroke-width="1"/>
<text x="318.66" y="19.95" font-size="6.71" textLength="15.67" lengthAdjust="spacingAndGlyphs" fill="#1a1a1a" font-weight="normal" class="b">3.00</text>
<line x1="336.2" y1="24.17" x2="338.8" y2="24.17" stroke="#222" stroke-width="1"/>
<text x="318.66" y="26.52" font-size="6.71" textLength="15.67" lengthAdjust="spacingAndGlyphs" fill="#1a1a1a" font-weight="normal" class="b">2.00</text>
<line x1="336.2" y1="30.73" x2="338.8" y2="30.73" stroke="#222" stroke-width="1"/>
<text x="318.66" y="33.08" font-size="6.71" textLength="15.67" lengthAdjust="spacingAndGlyphs" fill="#1a1a1a" font-weight="normal" class="b">1.00</text>
<line x1="336.2" y1="37.30" x2="338.8" y2="37.30" stroke="#222" stroke-width="1"/>
<text x="318.66" y="39.65" font-size="6.71" textLength="15.67" lengthAdjust="spacingAndGlyphs" fill="#1a1a1a" font-weight="normal" class="b">0.00</text>
<line x1="336.2" y1="43.87" x2="338.8" y2="43.87" stroke="#222" stroke-width="1"/>
<text x="315.36" y="46.22" font-size="6.71" textLength="18.97" lengthAdjust="spacingAndGlyphs" fill="#1a1a1a" font-weight="normal" class="b">−1.00</text>
<line x1="336.2" y1="50.43" x2="338.8" y2="50.43" stroke="#222" stroke-width="1"/>
<text x="315.36" y="52.78" font-size="6.71" textLength="18.97" lengthAdjust="spacingAndGlyphs" fill="#1a1a1a" font-weight="normal" class="b">−2.00</text>
<line x1="336.2" y1="57.00" x2="338.8" y2="57.00" stroke="#222" stroke-width="1"/>
<text x="315.36" y="59.35" font-size="6.71" textLength="18.97" lengthAdjust="spacingAndGlyphs" fill="#1a1a1a" font-weight="normal" class="b">−3.00</text>
<line x1="336.2" y1="70.8" x2="338.8" y2="70.8" stroke="#222" stroke-width="1"/>
<text x="323.84" y="73.30" font-size="7.14" textLength="10.51" lengthAdjust="spacingAndGlyphs" fill="#1a1a1a" font-weight="normal" class="b">ND</text>
<line x1="339.8" y1="18" x2="505.25" y2="18" stroke="#555" stroke-width="0.8" stroke-dasharray="0.8 1.2"/>
<line x1="339.8" y1="52.5" x2="504" y2="52.5" stroke="#111" stroke-width="0.9" stroke-dasharray="2.2 1.8"/>
<polyline points="358,18.3 397.5,65.7 436.75,65.9 476.25,65.9" fill="none" stroke="#c8142f" stroke-width="1.1"/>
<circle cx="358" cy="18.3" r="1.25" fill="#c8142f"/>
<circle cx="397.5" cy="65.7" r="1.25" fill="#c8142f"/>
<circle cx="436.75" cy="65.9" r="1.25" fill="#c8142f"/>
<circle cx="476.25" cy="65.9" r="1.25" fill="#c8142f"/>
<text x="345.61" y="82.10" font-size="7.71" textLength="28.77" lengthAdjust="spacingAndGlyphs" fill="#1a1a1a" font-weight="normal">Baseline</text>
<text x="389.41" y="82.10" font-size="7.71" textLength="10.77" lengthAdjust="spacingAndGlyphs" fill="#1a1a1a" font-weight="normal">C3</text>
<text x="429.61" y="82.10" font-size="7.71" textLength="11.77" lengthAdjust="spacingAndGlyphs" fill="#1a1a1a" font-weight="normal">M3</text>
<text x="469.61" y="82.10" font-size="7.71" textLength="11.27" lengthAdjust="spacingAndGlyphs" fill="#1a1a1a" font-weight="normal">M6</text>
<text x="493.36" y="82.10" font-size="7.71" textLength="19.52" lengthAdjust="spacingAndGlyphs" fill="#1a1a1a" font-weight="normal">Cycle</text>
<text x="117.82" y="213.75" font-size="8.57" textLength="28.86" lengthAdjust="spacingAndGlyphs" fill="#1a1a1a" font-weight="normal">FL 024</text>
<text transform="translate(15.27,237.50) rotate(-90)" x="0" y="0" text-anchor="middle" font-size="9.40" textLength="45.94" lengthAdjust="spacingAndGlyphs" fill="#1a1a1a" class="v">Log fold change</text>
<text transform="translate(26.48,236.25) rotate(-90)" x="0" y="0" text-anchor="middle" font-size="9.00" textLength="25.90" lengthAdjust="spacingAndGlyphs" fill="#1a1a1a" class="v">in ctDNA</text>
<path d="M52,214.9 V257.1 M52,265.2 V273.3" stroke="#222" stroke-width="1" fill="none"/>
<path d="M49,261.3 L54.6,256.90000000000003 M49,265.5 L54.6,261.1" stroke="#222" stroke-width="1.1" fill="none"/>
<line x1="49.4" y1="217.50" x2="52" y2="217.50" stroke="#222" stroke-width="1"/>
<text x="31.86" y="219.85" font-size="6.71" textLength="15.67" lengthAdjust="spacingAndGlyphs" fill="#1a1a1a" font-weight="normal" class="b">3.00</text>
<line x1="49.4" y1="223.83" x2="52" y2="223.83" stroke="#222" stroke-width="1"/>
<text x="31.86" y="226.18" font-size="6.71" textLength="15.67" lengthAdjust="spacingAndGlyphs" fill="#1a1a1a" font-weight="normal" class="b">2.00</text>
<line x1="49.4" y1="230.17" x2="52" y2="230.17" stroke="#222" stroke-width="1"/>
<text x="31.86" y="232.52" font-size="6.71" textLength="15.67" lengthAdjust="spacingAndGlyphs" fill="#1a1a1a" font-weight="normal" class="b">1.00</text>
<line x1="49.4" y1="236.50" x2="52" y2="236.50" stroke="#222" stroke-width="1"/>
<text x="31.86" y="238.85" font-size="6.71" textLength="15.67" lengthAdjust="spacingAndGlyphs" fill="#1a1a1a" font-weight="normal" class="b">0.00</text>
<line x1="49.4" y1="242.83" x2="52" y2="242.83" stroke="#222" stroke-width="1"/>
<text x="28.56" y="245.18" font-size="6.71" textLength="18.97" lengthAdjust="spacingAndGlyphs" fill="#1a1a1a" font-weight="normal" class="b">−1.00</text>
<line x1="49.4" y1="249.17" x2="52" y2="249.17" stroke="#222" stroke-width="1"/>
<text x="28.56" y="251.52" font-size="6.71" textLength="18.97" lengthAdjust="spacingAndGlyphs" fill="#1a1a1a" font-weight="normal" class="b">−2.00</text>
<line x1="49.4" y1="255.50" x2="52" y2="255.50" stroke="#222" stroke-width="1"/>
<text x="28.56" y="257.85" font-size="6.71" textLength="18.97" lengthAdjust="spacingAndGlyphs" fill="#1a1a1a" font-weight="normal" class="b">−3.00</text>
<line x1="49.4" y1="270" x2="52" y2="270" stroke="#222" stroke-width="1"/>
<text x="37.04" y="272.50" font-size="7.14" textLength="10.51" lengthAdjust="spacingAndGlyphs" fill="#1a1a1a" font-weight="normal" class="b">ND</text>
<line x1="53" y1="225.5" x2="212.75" y2="225.5" stroke="#555" stroke-width="0.8" stroke-dasharray="0.8 1.2"/>
<line x1="53" y1="248.25" x2="214.25" y2="248.25" stroke="#111" stroke-width="0.9" stroke-dasharray="2.2 1.8"/>
<polyline points="77,225.5 126.25,240 174.5,264.5" fill="none" stroke="#c8142f" stroke-width="1.1"/>
<circle cx="77" cy="225.5" r="1.25" fill="#c8142f"/>
<circle cx="126.25" cy="240" r="1.25" fill="#c8142f"/>
<circle cx="174.5" cy="264.5" r="1.25" fill="#c8142f"/>
<text x="65.36" y="281.70" font-size="7.71" textLength="28.77" lengthAdjust="spacingAndGlyphs" fill="#1a1a1a" font-weight="normal">Baseline</text>
<text x="121.61" y="281.70" font-size="7.71" textLength="10.77" lengthAdjust="spacingAndGlyphs" fill="#1a1a1a" font-weight="normal">C3</text>
<text x="169.61" y="281.70" font-size="7.71" textLength="10.77" lengthAdjust="spacingAndGlyphs" fill="#1a1a1a" font-weight="normal">C6</text>
<text x="201.36" y="281.70" font-size="7.71" textLength="19.52" lengthAdjust="spacingAndGlyphs" fill="#1a1a1a" font-weight="normal">Cycle</text>
<text x="393.32" y="213.75" font-size="8.57" textLength="29.11" lengthAdjust="spacingAndGlyphs" fill="#1a1a1a" font-weight="normal">FL 023</text>
<text transform="translate(290.27,241.25) rotate(-90)" x="0" y="0" text-anchor="middle" font-size="9.40" textLength="45.94" lengthAdjust="spacingAndGlyphs" fill="#1a1a1a" class="v">Log fold change</text>
<text transform="translate(301.98,240.62) rotate(-90)" x="0" y="0" text-anchor="middle" font-size="9.00" textLength="24.65" lengthAdjust="spacingAndGlyphs" fill="#1a1a1a" class="v">in ctDNA</text>
<path d="M330.75,216.15 V259.6 M330.75,265.7 V273.8" stroke="#222" stroke-width="1" fill="none"/>
<path d="M327.75,263.8 L333.35,259.40000000000003 M327.75,268.0 L333.35,263.6" stroke="#222" stroke-width="1.1" fill="none"/>
<line x1="328.15" y1="218.75" x2="330.75" y2="218.75" stroke="#222" stroke-width="1"/>
<text x="310.61" y="221.10" font-size="6.71" textLength="15.67" lengthAdjust="spacingAndGlyphs" fill="#1a1a1a" font-weight="normal" class="b">3.00</text>
<line x1="328.15" y1="225.29" x2="330.75" y2="225.29" stroke="#222" stroke-width="1"/>
<text x="310.61" y="227.64" font-size="6.71" textLength="15.67" lengthAdjust="spacingAndGlyphs" fill="#1a1a1a" font-weight="normal" class="b">2.00</text>
<line x1="328.15" y1="231.83" x2="330.75" y2="231.83" stroke="#222" stroke-width="1"/>
<text x="310.61" y="234.18" font-size="6.71" textLength="15.67" lengthAdjust="spacingAndGlyphs" fill="#1a1a1a" font-weight="normal" class="b">1.00</text>
<line x1="328.15" y1="238.38" x2="330.75" y2="238.38" stroke="#222" stroke-width="1"/>
<text x="310.61" y="240.72" font-size="6.71" textLength="15.67" lengthAdjust="spacingAndGlyphs" fill="#1a1a1a" font-weight="normal" class="b">0.00</text>
<line x1="328.15" y1="244.92" x2="330.75" y2="244.92" stroke="#222" stroke-width="1"/>
<text x="307.31" y="247.27" font-size="6.71" textLength="18.97" lengthAdjust="spacingAndGlyphs" fill="#1a1a1a" font-weight="normal" class="b">−1.00</text>
<line x1="328.15" y1="251.46" x2="330.75" y2="251.46" stroke="#222" stroke-width="1"/>
<text x="307.31" y="253.81" font-size="6.71" textLength="18.97" lengthAdjust="spacingAndGlyphs" fill="#1a1a1a" font-weight="normal" class="b">−2.00</text>
<line x1="328.15" y1="258.00" x2="330.75" y2="258.00" stroke="#222" stroke-width="1"/>
<text x="307.31" y="260.35" font-size="6.71" textLength="18.97" lengthAdjust="spacingAndGlyphs" fill="#1a1a1a" font-weight="normal" class="b">−3.00</text>
<line x1="328.15" y1="270.5" x2="330.75" y2="270.5" stroke="#222" stroke-width="1"/>
<text x="315.79" y="273.00" font-size="7.14" textLength="10.51" lengthAdjust="spacingAndGlyphs" fill="#1a1a1a" font-weight="normal" class="b">ND</text>
<line x1="331.75" y1="225.75" x2="484.25" y2="225.75" stroke="#555" stroke-width="0.8" stroke-dasharray="0.8 1.2"/>
<line x1="331.75" y1="251.25" x2="485" y2="251.25" stroke="#111" stroke-width="0.9" stroke-dasharray="2.2 1.8"/>
<polyline points="358,225.75 412.5,267.5 467,243" fill="none" stroke="#c8142f" stroke-width="1.1"/>
<circle cx="358" cy="225.75" r="1.25" fill="#c8142f"/>
<circle cx="412.5" cy="267.5" r="1.25" fill="#c8142f"/>
<circle cx="467" cy="243" r="1.25" fill="#c8142f"/>
<text x="341.61" y="281.70" font-size="7.71" textLength="28.77" lengthAdjust="spacingAndGlyphs" fill="#1a1a1a" font-weight="normal">Baseline</text>
<text x="406.61" y="281.70" font-size="7.71" textLength="11.27" lengthAdjust="spacingAndGlyphs" fill="#1a1a1a" font-weight="normal">C3</text>
<text x="462.86" y="281.70" font-size="7.71" textLength="10.52" lengthAdjust="spacingAndGlyphs" fill="#1a1a1a" font-weight="normal">C6</text>
<text x="493.36" y="281.70" font-size="7.71" textLength="19.52" lengthAdjust="spacingAndGlyphs" fill="#1a1a1a" font-weight="normal">Cycle</text>
<text x="257.07" y="413.00" font-size="8.57" textLength="29.11" lengthAdjust="spacingAndGlyphs" fill="#1a1a1a" font-weight="normal">FL 006</text>
<text transform="translate(153.07,447.45) rotate(-90)" x="0" y="0" text-anchor="middle" font-size="9.40" textLength="46.04" lengthAdjust="spacingAndGlyphs" fill="#1a1a1a" class="v">Log fold change</text>
<text transform="translate(162.98,445.70) rotate(-90)" x="0" y="0" text-anchor="middle" font-size="9.00" textLength="25.30" lengthAdjust="spacingAndGlyphs" fill="#1a1a1a" class="v">in ctDNA</text>
<path d="M192.4,417.2 V461.6 M192.4,467.2 V475.3" stroke="#222" stroke-width="1" fill="none"/>
<path d="M189.4,465.8 L195.0,461.40000000000003 M189.4,470.0 L195.0,465.6" stroke="#222" stroke-width="1.1" fill="none"/>
<line x1="189.8" y1="419.80" x2="192.4" y2="419.80" stroke="#222" stroke-width="1"/>
<text x="172.26" y="422.15" font-size="6.71" textLength="15.67" lengthAdjust="spacingAndGlyphs" fill="#1a1a1a" font-weight="normal" class="b">3.00</text>
<line x1="189.8" y1="426.50" x2="192.4" y2="426.50" stroke="#222" stroke-width="1"/>
<text x="172.26" y="428.85" font-size="6.71" textLength="15.67" lengthAdjust="spacingAndGlyphs" fill="#1a1a1a" font-weight="normal" class="b">2.00</text>
<line x1="189.8" y1="433.20" x2="192.4" y2="433.20" stroke="#222" stroke-width="1"/>
<text x="172.26" y="435.55" font-size="6.71" textLength="15.67" lengthAdjust="spacingAndGlyphs" fill="#1a1a1a" font-weight="normal" class="b">1.00</text>
<line x1="189.8" y1="439.90" x2="192.4" y2="439.90" stroke="#222" stroke-width="1"/>
<text x="172.26" y="442.25" font-size="6.71" textLength="15.67" lengthAdjust="spacingAndGlyphs" fill="#1a1a1a" font-weight="normal" class="b">0.00</text>
<line x1="189.8" y1="446.60" x2="192.4" y2="446.60" stroke="#222" stroke-width="1"/>
<text x="168.96" y="448.95" font-size="6.71" textLength="18.97" lengthAdjust="spacingAndGlyphs" fill="#1a1a1a" font-weight="normal" class="b">−1.00</text>
<line x1="189.8" y1="453.30" x2="192.4" y2="453.30" stroke="#222" stroke-width="1"/>
<text x="168.96" y="455.65" font-size="6.71" textLength="18.97" lengthAdjust="spacingAndGlyphs" fill="#1a1a1a" font-weight="normal" class="b">−2.00</text>
<line x1="189.8" y1="460.00" x2="192.4" y2="460.00" stroke="#222" stroke-width="1"/>
<text x="168.96" y="462.35" font-size="6.71" textLength="18.97" lengthAdjust="spacingAndGlyphs" fill="#1a1a1a" font-weight="normal" class="b">−3.00</text>
<line x1="189.8" y1="472" x2="192.4" y2="472" stroke="#222" stroke-width="1"/>
<text x="177.44" y="474.50" font-size="7.14" textLength="10.51" lengthAdjust="spacingAndGlyphs" fill="#1a1a1a" font-weight="normal" class="b">ND</text>
<line x1="193.4" y1="420.5" x2="352.25" y2="420.5" stroke="#555" stroke-width="0.8" stroke-dasharray="0.8 1.2"/>
<line x1="193.4" y1="453.25" x2="351.25" y2="453.25" stroke="#111" stroke-width="0.9" stroke-dasharray="2.2 1.8"/>
<polyline points="218.25,421.25 272.8,441.5 326.75,439.5" fill="none" stroke="#c8142f" stroke-width="1.1"/>
<circle cx="218.25" cy="421.25" r="1.25" fill="#c8142f"/>
<circle cx="272.8" cy="441.5" r="1.25" fill="#c8142f"/>
<circle cx="326.75" cy="439.5" r="1.25" fill="#c8142f"/>
<text x="200.36" y="483.70" font-size="7.71" textLength="28.77" lengthAdjust="spacingAndGlyphs" fill="#1a1a1a" font-weight="normal">Baseline</text>
<text x="265.86" y="483.70" font-size="7.71" textLength="10.77" lengthAdjust="spacingAndGlyphs" fill="#1a1a1a" font-weight="normal">C3</text>
<text x="321.61" y="483.70" font-size="7.71" textLength="10.77" lengthAdjust="spacingAndGlyphs" fill="#1a1a1a" font-weight="normal">C5</text>
<text x="356.61" y="483.70" font-size="7.71" textLength="19.27" lengthAdjust="spacingAndGlyphs" fill="#1a1a1a" font-weight="normal">Cycle</text>
<text x="153.39" y="144.80" font-size="8.29" textLength="17.93" lengthAdjust="spacingAndGlyphs" fill="#c8142f" font-weight="normal" class="r">CMR</text>
<text x="448.39" y="146.00" font-size="8.29" textLength="18.03" lengthAdjust="spacingAndGlyphs" fill="#c8142f" font-weight="normal" class="r">CMR</text>
<text x="197.39" y="347.60" font-size="8.29" textLength="17.83" lengthAdjust="spacingAndGlyphs" fill="#c8142f" font-weight="normal" class="r">CMR</text>
<text x="493.39" y="340.80" font-size="8.29" textLength="17.83" lengthAdjust="spacingAndGlyphs" fill="#c8142f" font-weight="normal" class="r">CMR</text>
<text x="349.09" y="545.15" font-size="8.14" textLength="11.01" lengthAdjust="spacingAndGlyphs" fill="#c8142f" font-weight="normal" class="r">PD</text>
<rect x="0" y="0" width="1.1" height="604" fill="#000"/><rect x="0" y="0" width="520" height="1.1" fill="#000"/><rect x="518.7" y="0" width="1.3" height="604" fill="#000"/><rect x="0" y="602.6" width="520" height="1.4" fill="#000"/>
</svg>
</body></html>
